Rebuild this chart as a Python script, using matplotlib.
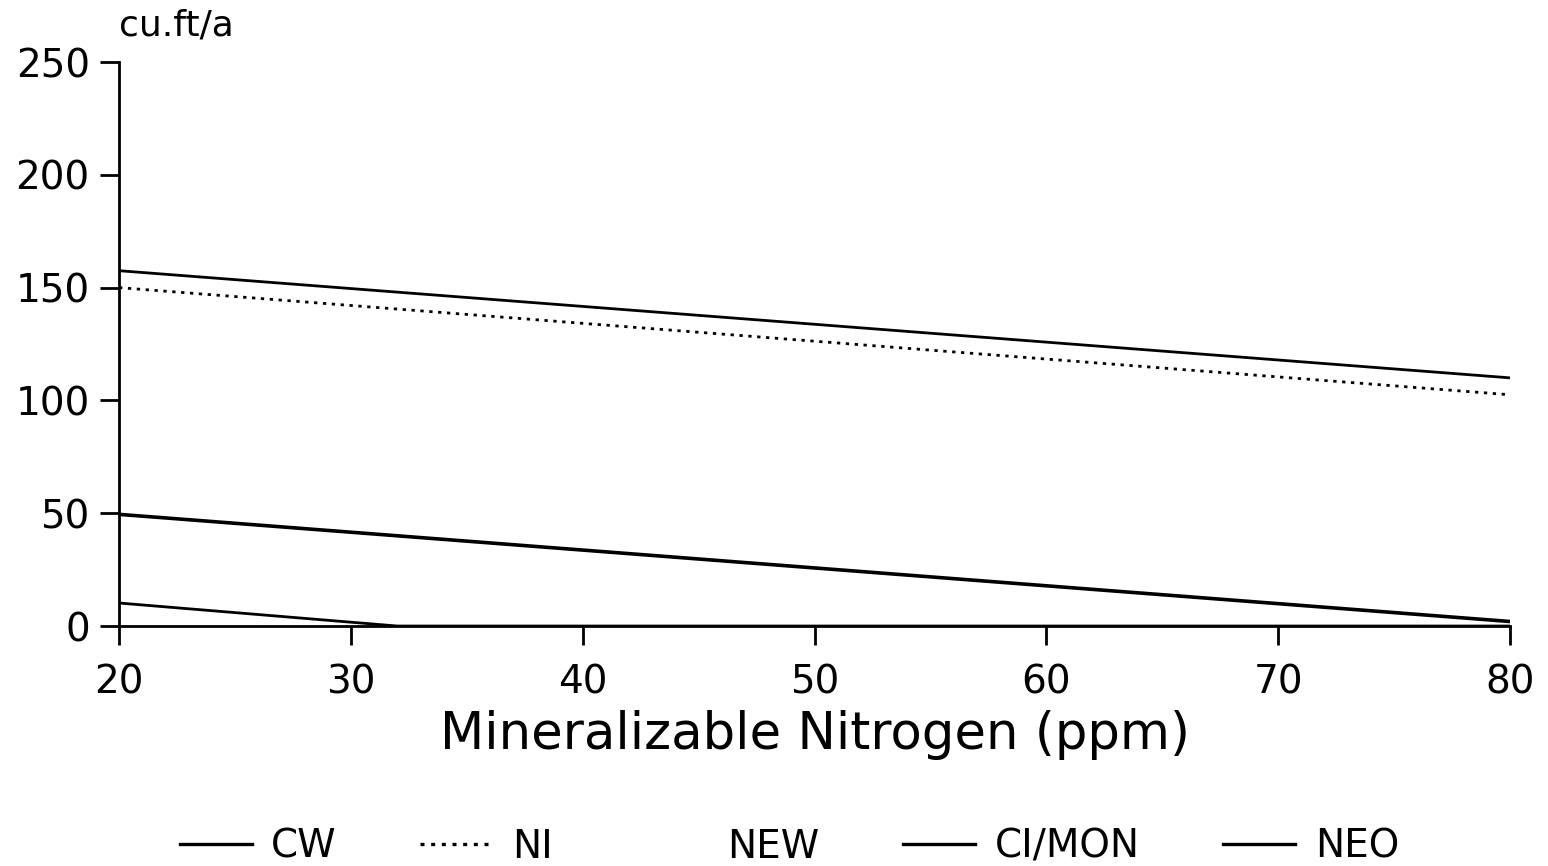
import numpy as np
import matplotlib.pyplot as plt

# Mineralizable nitrogen (ppm) against volume growth (cu.ft/a)
nitrogen = [20, 80]
cw = [157.5, 110.0]
ni = [150.0, 102.5]
new = [0.0, 0.0]
ci_mon = [49.5, 2.0]
neo_n = [20, 32, 80]
neo = [10.2, 0.0, 0.0]

x_ticks = [20, 30, 40, 50, 60, 70, 80]
y_ticks = [0, 50, 100, 150, 200, 250]

plt.rcParams['font.family'] = ['DejaVu Sans']

fig = plt.figure(figsize=(15.48, 8.66), dpi=100)
ax = fig.add_axes([0.0769, 0.2771, 0.8986, 0.6513])

ax.plot(nitrogen, cw, color="black", lw=2.0, label="CW")
ax.plot(nitrogen, ni, color="black", lw=2.0, ls=(0, (1.2, 2.0)), label="NI")
ax.plot(nitrogen, new, color="black", lw=2.0, ls="none", label="NEW")
ax.plot(nitrogen, ci_mon, color="black", lw=2.6, label="CI/MON")
ax.plot(neo_n, neo, color="black", lw=2.0, label="NEO")

ax.set_xlim(20, 80)
ax.set_ylim(0, 250)
ax.set_xticks(x_ticks)
ax.set_yticks(y_ticks)
ax.spines["top"].set_visible(False)
ax.spines["right"].set_visible(False)
ax.spines["left"].set_linewidth(2)
ax.spines["bottom"].set_linewidth(2)
ax.tick_params(axis="both", direction="out", length=14, width=2,
               labelsize=28, colors="black")
ax.tick_params(axis="x", pad=13)
ax.tick_params(axis="y", pad=7)

ax.set_xlabel("Mineralizable Nitrogen (ppm)", fontsize=37, labelpad=6)
ax.text(0.0, 1.035, "cu.ft/a", transform=ax.transAxes, fontsize=26,
        ha="left", va="bottom")

leg = fig.legend(loc="center", bbox_to_anchor=(0.51, 0.022), ncol=5,
                 frameon=False, fontsize=28, handlelength=1.85,
                 handletextpad=0.5, columnspacing=2.15)
for line in leg.get_lines():
    line.set_linewidth(2.4)

fig.savefig("out.png", dpi=100)
